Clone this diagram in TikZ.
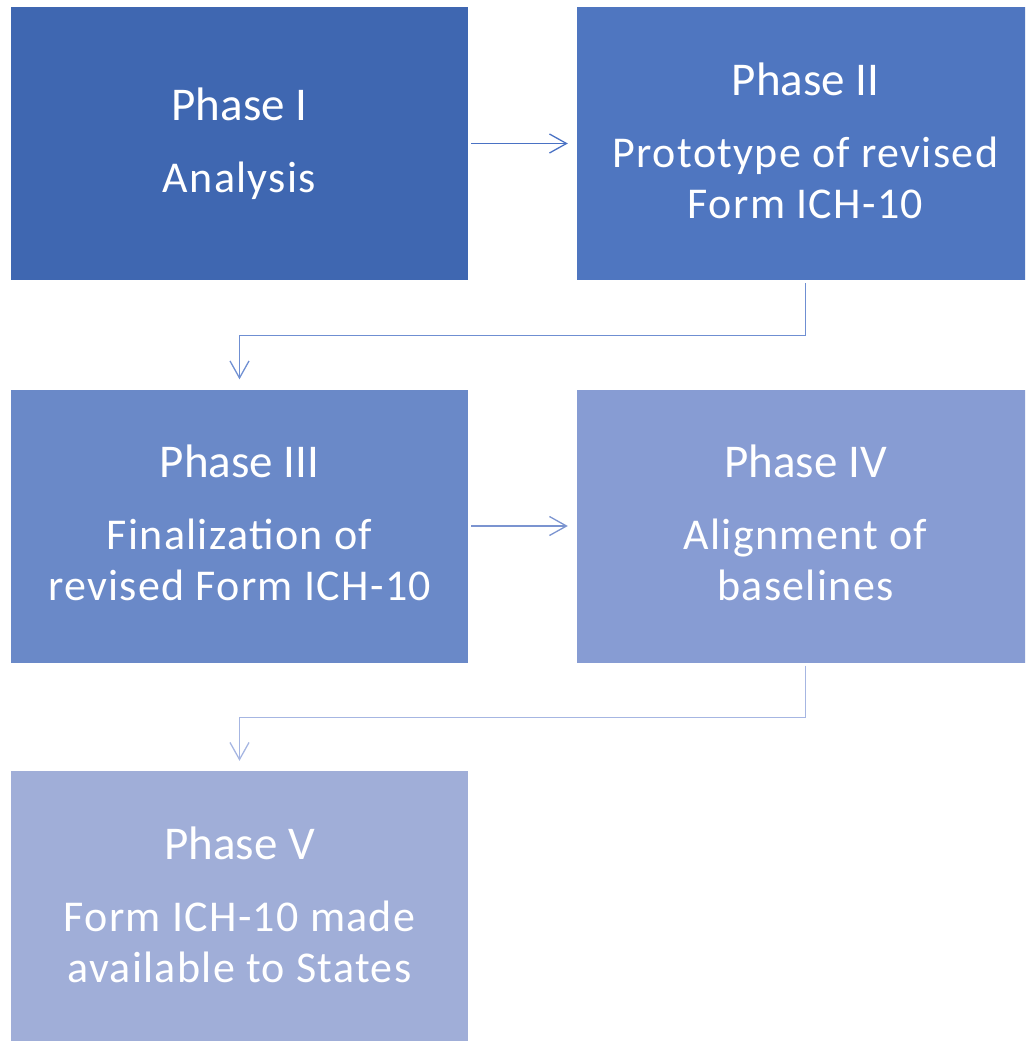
\documentclass[tikz,border=0pt]{standalone}
\usepackage{fontspec}
\setmainfont{Carlito}
\newfontfamily\bodyfont[LetterSpace=3]{Carlito}
\usetikzlibrary{arrows.meta}
\definecolor{cA}{HTML}{3F67B1}
\definecolor{cB}{HTML}{4F76C0}
\definecolor{cC}{HTML}{6A89C8}
\definecolor{cD}{HTML}{879CD3}
\definecolor{cE}{HTML}{A0AED8}
\definecolor{aA}{HTML}{4A72C4}
\definecolor{aB}{HTML}{6F8FD2}
\definecolor{aC}{HTML}{7B94D0}
\definecolor{aD}{HTML}{A6B6E2}
\newcommand{\phtitle}[1]{{\rmfamily\fontsize{47}{51}\selectfont #1}\\[21pt]}
\tikzset{
  phasebox/.style={rectangle, inner sep=0pt, minimum width=457pt, minimum height=273pt},
  phasetext/.style={inner sep=0pt, text=white, align=center, font=\bodyfont\fontsize{44}{51}\selectfont},
  flowarrow/.style={line width=1.3pt, -{Straight Barb[length=17pt,width=19pt,line width=1.3pt]}}
}
\begin{document}
\begin{tikzpicture}[x=1pt,y=-1pt]
\useasboundingbox (0,0) rectangle (1025,1041);
\clip (0,0) rectangle (1025,1041);
\node[phasebox, fill=cA] (b1) at (239.5,143.5) {};
\node[phasebox, fill=cB] (b2) at (805.5,143.5) {};
\node[phasebox, fill=cC] (b3) at (239.5,526) {};
\node[phasebox, fill=cD] (b4) at (805.5,526) {};
\node[phasebox, fill=cE] (b5) at (239.5,907.5) {};
\node[phasetext] (t1) at (b1.center) {\phtitle{Phase I}Analysis};
\node[phasetext] (t2) at ([yshift=3pt]b2.center) {\phtitle{Phase II}Prototype of revised\\Form ICH-10};
\node[phasetext] (t3) at ([yshift=3.5pt]b3.center) {\phtitle{Phase III}Finalization of\\revised Form ICH-10};
\node[phasetext] (t4) at ([yshift=3.5pt]b4.center) {\phtitle{Phase IV}Alignment of\\baselines};
\node[phasetext] (t5) at ([yshift=3pt]b5.center) {\phtitle{Phase V}Form ICH-10 made\\available to States};
\draw[flowarrow, aA] ([xshift=3pt]b1.east) -- ([xshift=-9pt]b2.west);
\draw[flowarrow, aB] ([yshift=-3pt]b2.south) -- ++(0,52) -| ([yshift=10pt]b3.north);
\draw[flowarrow, aC] ([xshift=3pt]b3.east) -- ([xshift=-9pt]b4.west);
\draw[flowarrow, aD] ([yshift=-3pt]b4.south) -- ++(0,52) -| ([yshift=10pt]b5.north);
\end{tikzpicture}
\end{document}
